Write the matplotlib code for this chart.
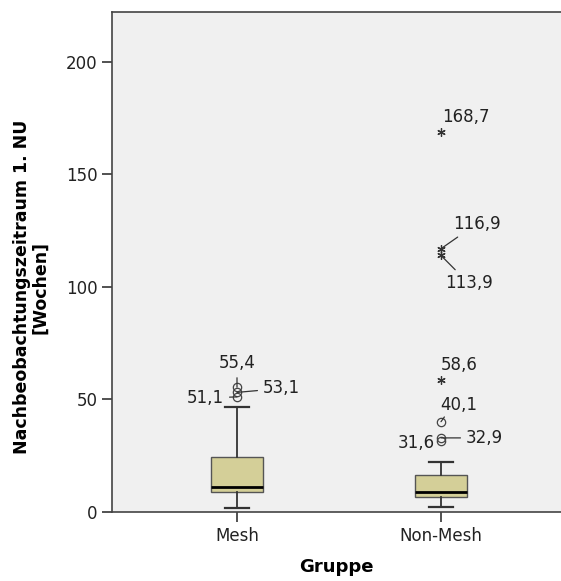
import numpy as np
import matplotlib.pyplot as plt

# Gruppen und Boxplot-Kennwerte (Wochen)
gruppen = ['Mesh', 'Non-Mesh']
q1 = [8.9, 6.7]
median = [11.1, 8.9]
q3 = [24.4, 16.4]
whisker_lo = [1.8, 2.2]
whisker_hi = [46.7, 22.2]

# Ausreisser (Kreise) und Extremwerte (Sterne)
ausreisser_mesh = [51.1, 53.1, 55.4]
ausreisser_nonmesh = [31.6, 32.9, 40.1]
extrem_nonmesh = [58.6, 113.9, 116.9, 168.7]
beschriftung_mesh = ['51,1', '53,1', '55,4']
beschriftung_nonmesh_o = ['31,6', '32,9', '40,1']
beschriftung_nonmesh_x = ['58,6', '113,9', '116,9', '168,7']

plt.rcParams['font.family'] = 'DejaVu Sans'

fig = plt.figure(figsize=(5.61, 5.81), dpi=100)
ax = fig.add_axes([112 / 561, 69 / 581, 449 / 561, 500 / 581])
ax.set_facecolor('#f0f0f0')

stats = []
for i in range(2):
    stats.append(dict(med=median[i], q1=q1[i], q3=q3[i],
                      whislo=whisker_lo[i], whishi=whisker_hi[i], fliers=[]))
ax.bxp(stats, positions=[1, 2], widths=0.255, capwidths=0.12,
       showfliers=False, patch_artist=True,
       boxprops=dict(facecolor='#d4cf98', edgecolor='#555555', linewidth=1),
       medianprops=dict(color='black', linewidth=2),
       whiskerprops=dict(color='#333333', linewidth=1.3),
       capprops=dict(color='#333333', linewidth=1.6))

ax.plot([1] * len(ausreisser_mesh), ausreisser_mesh, 'o', mfc='none',
        mec='#444444', ms=6, mew=0.9)
ax.plot([2] * len(ausreisser_nonmesh), ausreisser_nonmesh, 'o', mfc='none',
        mec='#444444', ms=6, mew=0.9)
ax.plot([2] * len(extrem_nonmesh), extrem_nonmesh, marker=(6, 2, 0),
        ls='none', color='#333333', ms=6, mew=0.9)

fs = 12
lp = dict(arrowstyle='-', color='#333333', lw=0.9, shrinkA=2, shrinkB=0)

def label(x, y, txt, dx, dy, ha, line=False):
    ax.annotate(txt, (x, y), xytext=(dx, dy), textcoords='offset pixels',
                ha=ha, va='center', fontsize=fs, color='#222222',
                arrowprops=lp if line else None)

# Mesh
label(1, ausreisser_mesh[2], beschriftung_mesh[2], 0, 24, 'center', True)
label(1, ausreisser_mesh[0], beschriftung_mesh[0], -13, -1, 'right', True)
label(1, ausreisser_mesh[1], beschriftung_mesh[1], 26, 4, 'left', True)
# Non-Mesh
label(2, extrem_nonmesh[3], beschriftung_nonmesh_x[3], 25, 15, 'center')
label(2, extrem_nonmesh[2], beschriftung_nonmesh_x[2], 12, 25, 'left', True)
label(2, extrem_nonmesh[1], beschriftung_nonmesh_x[1], 4, -28, 'left', True)
label(2, extrem_nonmesh[0], beschriftung_nonmesh_x[0], 18, 15, 'center')
label(2, ausreisser_nonmesh[2], beschriftung_nonmesh_o[2], 18, 17, 'center')
ax.annotate('', (2, ausreisser_nonmesh[2]), xytext=(5, 7),
            textcoords='offset pixels', arrowprops=lp)
label(2, ausreisser_nonmesh[1], beschriftung_nonmesh_o[1], 25, 0, 'left', True)
label(2, ausreisser_nonmesh[0], beschriftung_nonmesh_o[0], -6, -2, 'right')

ax.set_xlim(1 - 125 / 204, 2 + 120 / 204)
ax.set_ylim(0, 222)
ax.set_yticks([0, 50, 100, 150, 200])
ax.set_xticks([1, 2])
ax.set_xticklabels(gruppen)
ax.tick_params(axis='both', labelsize=12, colors='#222222', length=7,
               width=1.2, color='#333333')
for s in ['left', 'bottom', 'top']:
    ax.spines[s].set_color('#444444')
    ax.spines[s].set_linewidth(1.2)
ax.spines['right'].set_visible(False)

ax.set_xlabel('Gruppe', fontsize=13, fontweight='bold', labelpad=10)
ax.set_ylabel('Nachbeobachtungszeitraum 1. NU\n[Wochen]', fontsize=12.5,
              fontweight='bold', labelpad=10, linespacing=1.0)
ax.yaxis.set_label_coords(-0.14, 0.45)

fig.savefig('out.png', dpi=100)
